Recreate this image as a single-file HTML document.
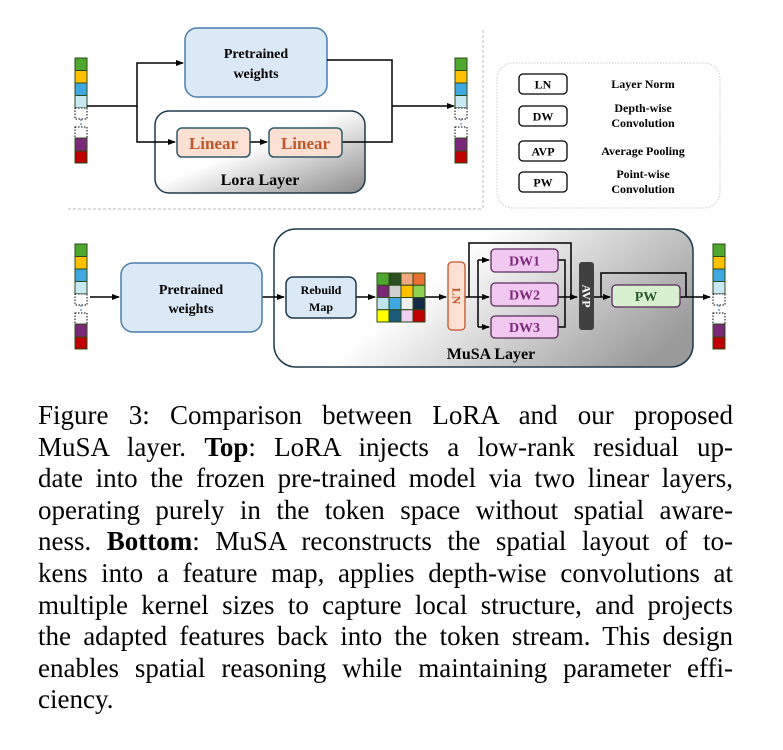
<!DOCTYPE html>
<html><head><meta charset="utf-8"><style>
body{margin:0;background:#fff;width:783px;height:750px;overflow:hidden;position:relative;font-family:"Liberation Serif",serif}
svg{position:absolute;left:0;top:0}
.cap{position:absolute;left:38px;width:695px;font-size:27px;line-height:31.6px;text-align:justify;text-align-last:justify;white-space:nowrap;color:#000}
.b{font-weight:bold}
</style></head><body>
<svg width="783" height="390" viewBox="0 0 783 390" font-family="Liberation Serif, serif" font-weight="bold">
<defs>
<linearGradient id="g" x1="0" y1="0" x2="1" y2="1"><stop offset="0.45" stop-color="#fff"/><stop offset="1" stop-color="#8a8a8a"/></linearGradient>
<linearGradient id="g2" x1="0" y1="0.3" x2="1" y2="0.7"><stop offset="0.35" stop-color="#fff"/><stop offset="1" stop-color="#9a9a9a"/></linearGradient>
<marker id="a" markerWidth="8" markerHeight="8" refX="7" refY="4" orient="auto" markerUnits="userSpaceOnUse"><path d="M0,1 L8,4 L0,7z" fill="#000"/></marker>
<g id="tok">
<rect x="0" y="0" width="12" height="12.5" fill="#4ea72e" stroke="#2d4a1a"/>
<rect x="0" y="12.5" width="12" height="12.5" fill="#ffc000" stroke="#2d4a1a"/>
<rect x="0" y="25" width="12" height="12.5" fill="#40a8e0" stroke="#2d4a1a"/>
<rect x="0" y="37.5" width="12" height="12.5" fill="#c8e8f4" stroke="#2d4a1a"/>
<rect x="0" y="50" width="12" height="11" fill="#fff" stroke="#000" stroke-dasharray="1.5,1.5"/>
<line x1="6" y1="61" x2="6" y2="69" stroke="#3a6ab0" stroke-dasharray="2,2"/>
<rect x="0" y="69" width="12" height="11" fill="#fff" stroke="#000" stroke-dasharray="1.5,1.5"/>
<rect x="0" y="80" width="12" height="13" fill="#7a2878" stroke="#2d4a1a"/>
<rect x="0" y="93" width="12" height="12" fill="#c00000" stroke="#2d4a1a"/>
</g>
</defs>
<use href="#tok" x="75" y="58"/>
<use href="#tok" x="455" y="58"/>
<line x1="68" y1="209" x2="482" y2="209" stroke="#bbb" stroke-dasharray="3,2"/>
<line x1="483" y1="30" x2="483" y2="209" stroke="#bbb" stroke-dasharray="3,2"/>
<rect x="155" y="111" width="210" height="82" rx="14" fill="url(#g)" stroke="#1f3a4a" stroke-width="1.5"/>
<text x="260" y="185" font-size="16" text-anchor="middle">Lora Layer</text>
<rect x="185" y="28" width="142" height="69" rx="12" fill="#dbe8f5" stroke="#4a7eb0" stroke-width="1.5"/>
<text x="256" y="58" font-size="14" text-anchor="middle">Pretrained</text>
<text x="256" y="78" font-size="14" text-anchor="middle">weights</text>
<g fill="none" stroke="#000" stroke-width="1.5">
<path d="M87,106 H137 V63 H183" marker-end="url(#a)"/>
<path d="M137,106 V142 H175" marker-end="url(#a)"/>
<path d="M250,142 H267" marker-end="url(#a)"/>
<path d="M327,60 H392 V142 H342"/>
<path d="M392,106 H454" marker-end="url(#a)"/>
</g>
<rect x="177" y="128" width="73" height="29" rx="5" fill="#fbe0d3" stroke="#2d5a6a" stroke-width="1.5"/>
<text x="213.5" y="149" font-size="17" fill="#c0562a" text-anchor="middle">Linear</text>
<rect x="269" y="128" width="73" height="29" rx="5" fill="#fbe0d3" stroke="#2d5a6a" stroke-width="1.5"/>
<text x="305.5" y="149" font-size="17" fill="#c0562a" text-anchor="middle">Linear</text>
<rect x="497" y="63" width="223" height="145" rx="16" fill="none" stroke="#ccc" stroke-dasharray="1.5,1.5"/>
<g font-size="12" text-anchor="middle">
<rect x="519" y="74" width="48" height="20" rx="4" fill="#fff" stroke="#000" stroke-width="1.3"/><text x="543" y="88.5">LN</text>
<rect x="519" y="106" width="48" height="20" rx="4" fill="#fff" stroke="#000" stroke-width="1.3"/><text x="543" y="120.5">DW</text>
<rect x="519" y="141" width="48" height="20" rx="4" fill="#fff" stroke="#000" stroke-width="1.3"/><text x="543" y="155.5">AVP</text>
<rect x="519" y="172" width="48" height="20" rx="4" fill="#fff" stroke="#000" stroke-width="1.3"/><text x="543" y="186.5">PW</text>
<text x="643" y="88">Layer Norm</text>
<text x="643" y="112">Depth-wise</text><text x="643" y="127">Convolution</text>
<text x="643" y="155">Average Pooling</text>
<text x="643" y="178">Point-wise</text><text x="643" y="193">Convolution</text>
</g>
<use href="#tok" x="75" y="244"/>
<use href="#tok" x="713" y="244"/>
<rect x="274" y="229" width="419" height="138" rx="22" fill="url(#g2)" stroke="#1f3a4a" stroke-width="1.5"/>
<text x="491" y="359" font-size="16" text-anchor="middle">MuSA Layer</text>
<g fill="none" stroke="#000" stroke-width="1.5">
<path d="M90,297 H119" marker-end="url(#a)"/>
<path d="M262,297 H284" marker-end="url(#a)"/>
<path d="M356,297 H375" marker-end="url(#a)"/>
<path d="M425,297 H446" marker-end="url(#a)"/>
<path d="M465,297 H489" marker-end="url(#a)"/>
<path d="M478,260 V327"/>
<path d="M478,260 H489" marker-end="url(#a)"/>
<path d="M478,327 H489" marker-end="url(#a)"/>
<path d="M469,297 V243 H571 V297"/>
<path d="M558,260 H565 V327 H558"/>
<path d="M558,297 H577" marker-end="url(#a)"/>
<path d="M594,297 H610" marker-end="url(#a)"/>
<path d="M601,297 V273 H686 V297"/>
<path d="M680,297 H710" marker-end="url(#a)"/>
</g>
<rect x="121" y="263" width="141" height="69" rx="12" fill="#dbe8f5" stroke="#4a7eb0" stroke-width="1.5"/>
<text x="191" y="294" font-size="14" text-anchor="middle">Pretrained</text>
<text x="191" y="313" font-size="14" text-anchor="middle">weights</text>
<rect x="286" y="277" width="70" height="41" rx="7" fill="#dbe8f5" stroke="#1f3a4a" stroke-width="1.5"/>
<text x="321" y="294" font-size="12" text-anchor="middle">Rebuild</text>
<text x="321" y="311" font-size="12" text-anchor="middle">Map</text>
<g stroke="#2d4a1a" stroke-width="1">
<rect x="377" y="273" width="12" height="12.25" fill="#4ea72e"/><rect x="389" y="273" width="12" height="12.25" fill="#2b5020"/><rect x="401" y="273" width="12" height="12.25" fill="#f0a880"/><rect x="413" y="273" width="12" height="12.25" fill="#e87030"/>
<rect x="377" y="285.25" width="12" height="12.25" fill="#7a2878"/><rect x="389" y="285.25" width="12" height="12.25" fill="#d0d0d0"/><rect x="401" y="285.25" width="12" height="12.25" fill="#ffc000"/><rect x="413" y="285.25" width="12" height="12.25" fill="#90d050"/>
<rect x="377" y="297.5" width="12" height="12.25" fill="#c0e4f0"/><rect x="389" y="297.5" width="12" height="12.25" fill="#40a8e0"/><rect x="401" y="297.5" width="12" height="12.25" fill="#f0f0f0"/><rect x="413" y="297.5" width="12" height="12.25" fill="#152a45"/>
<rect x="377" y="309.75" width="12" height="12.25" fill="#ffff00"/><rect x="389" y="309.75" width="12" height="12.25" fill="#1a5a7a"/><rect x="401" y="309.75" width="12" height="12.25" fill="#f0d0f0"/><rect x="413" y="309.75" width="12" height="12.25" fill="#c00000"/>
</g>
<rect x="448" y="262" width="17" height="68" rx="4" fill="#fbe0d3" stroke="#c0562a" stroke-width="1.3"/>
<text x="456.5" y="296" font-size="12" fill="#c0562a" text-anchor="middle" transform="rotate(90 456.5 296)" dy="4">LN</text>
<g font-size="14" fill="#7a2a7a" text-anchor="middle">
<rect x="491" y="249" width="67" height="23" rx="4" fill="#f0c8f0" stroke="#5a2a5a" stroke-width="1.3"/><text x="524.5" y="265.5">DW1</text>
<rect x="491" y="283" width="67" height="23" rx="4" fill="#f0c8f0" stroke="#5a2a5a" stroke-width="1.3"/><text x="524.5" y="299.5">DW2</text>
<rect x="491" y="316" width="67" height="22" rx="4" fill="#f0c8f0" stroke="#5a2a5a" stroke-width="1.3"/><text x="524.5" y="332">DW3</text>
</g>
<rect x="579" y="262" width="15" height="68" rx="3" fill="#404040"/>
<text x="586.5" y="296" font-size="12" fill="#fff" text-anchor="middle" transform="rotate(90 586.5 296)" dy="4">AVP</text>
<rect x="612" y="285" width="68" height="22" rx="4" fill="#d8f0d0" stroke="#5a2a5a" stroke-width="1.3"/>
<text x="646" y="301" font-size="14" fill="#2a5a2a" text-anchor="middle">PW</text>
</svg>
<div class="cap" style="top:400px">Figure 3: Comparison between LoRA and our proposed</div>
<div class="cap" style="top:431.6px">MuSA layer. <span class="b">Top</span>: LoRA injects a low-rank residual up-</div>
<div class="cap" style="top:463.2px">date into the frozen pre-trained model via two linear layers,</div>
<div class="cap" style="top:494.8px">operating purely in the token space without spatial aware-</div>
<div class="cap" style="top:526.4px">ness. <span class="b">Bottom</span>: MuSA reconstructs the spatial layout of to-</div>
<div class="cap" style="top:558px">kens into a feature map, applies depth-wise convolutions at</div>
<div class="cap" style="top:589.6px">multiple kernel sizes to capture local structure, and projects</div>
<div class="cap" style="top:621.2px">the adapted features back into the token stream. This design</div>
<div class="cap" style="top:652.8px">enables spatial reasoning while maintaining parameter effi-</div>
<div class="cap" style="top:684.4px;text-align-last:left">ciency.</div>
</body></html>
